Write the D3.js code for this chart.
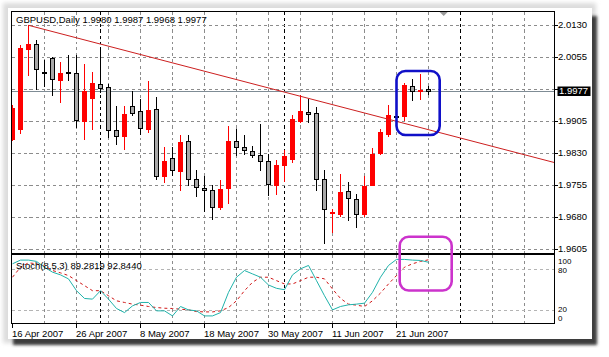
<!DOCTYPE html>
<html><head><meta charset="utf-8">
<script src="https://cdn.jsdelivr.net/npm/d3@7/dist/d3.min.js"></script>
<style>
html,body{margin:0;padding:0;background:#fff;}
svg{display:block;font-family:"Liberation Sans",Arial,sans-serif;}
</style></head><body>
<svg id="c" width="609" height="357"></svg>
<script>
// ---------- data ----------
const symbolTitle = "GBPUSD,Daily";
const titleValues = ["1.9980", "1.9987", "1.9968", "1.9977"];
const opens = [1.9864,1.9888,2.0075,2.0085,2.0021,2.0053,2.0001,2.0020,2.0018,1.9906,
  1.9960,1.9992,1.9985,1.9885,1.9870,1.9940,1.9929,1.9888,1.9933,1.9777,
  1.9819,1.9788,1.9858,1.9769,1.9749,1.9743,1.9704,1.9749,1.9858,1.9845,
  1.9835,1.9825,1.9811,1.9756,1.9802,1.9817,1.9905,1.9927,1.9924,1.9769,
  1.9690,1.9687,1.9741,1.9722,1.9688,1.9756,1.9831,1.9876,1.9918,1.9917,
  1.9988,1.9976,1.9980];
const highs = [1.9943,2.0083,2.0130,2.0095,2.0048,2.0056,2.0044,2.0060,2.0061,2.0040,
  2.0021,2.0079,1.9993,1.9942,1.9940,1.9975,1.9958,1.9999,1.9962,1.9845,
  1.9845,1.9872,1.9872,1.9790,1.9777,1.9755,1.9767,1.9894,1.9886,1.9874,
  1.9847,1.9898,1.9829,1.9814,1.9837,1.9920,1.9966,1.9957,1.9938,1.9790,
  1.9700,1.9781,1.9763,1.9735,1.9777,1.9842,1.9886,1.9944,1.9919,1.9995,
  2.0005,2.0017,1.9987];
const lows = [1.9861,1.9878,2.0013,1.9981,1.9988,1.9967,1.9950,2.0001,1.9892,1.9864,
  1.9888,1.9974,1.9868,1.9852,1.9841,1.9919,1.9876,1.9880,1.9769,1.9763,
  1.9778,1.9745,1.9755,1.9729,1.9695,1.9675,1.9700,1.9714,1.9827,1.9829,
  1.9821,1.9790,1.9732,1.9735,1.9764,1.9810,1.9903,1.9903,1.9745,1.9620,
  1.9646,1.9683,1.9673,1.9657,1.9683,1.9755,1.9829,1.9870,1.9916,1.9907,
  1.9954,1.9957,1.9968];
const closes = [1.9935,2.0077,2.0085,2.0027,2.0020,2.0003,2.0018,2.0019,1.9907,1.9976,
  1.9995,1.9984,1.9884,1.9870,1.9922,1.9925,1.9890,1.9931,1.9777,1.9811,
  1.9790,1.9856,1.9769,1.9751,1.9743,1.9704,1.9746,1.9859,1.9845,1.9837,
  1.9825,1.9811,1.9759,1.9802,1.9824,1.9910,1.9929,1.9921,1.9769,1.9699,
  1.9692,1.9739,1.9725,1.9688,1.9753,1.9829,1.9880,1.9920,1.9917,1.9991,
  1.9975,1.9979,1.9977];
const stochMain = [87.1,92.4,92.4,90.5,82.2,75.0,71.1,65.3,48.3,37.1,
  36.1,48.3,36.1,22.6,16.7,26.4,31.3,31.3,19.2,19.2,
  11.9,25.5,20.6,19.2,11.9,11.9,16.7,45.9,67.7,77.4,
  72.5,67.7,56.5,51.7,49.7,71.1,79.8,84.7,62.8,41.0,
  20.6,25.5,27.9,28.9,30.3,45.9,67.7,84.7,93.4,93.4,
  92.4,91.9,89.28];
const stochSignal = [67.7,82.2,88.5,87.1,83.7,77.4,74.0,70.1,62.8,55.6,
  48.3,48.3,41.0,33.7,31.3,28.9,27.4,25.5,24.0,23.0,
  22.6,21.6,20.6,18.2,17.7,17.7,19.2,24.0,33.7,48.3,
  60.4,67.7,67.7,62.8,58.0,58.0,62.8,67.7,67.7,65.3,
  50.7,37.1,28.9,27.4,25.5,33.7,44.9,58.0,70.1,82.2,
  87.1,90.5,92.84];
const stochLegend = "Stoch(8,5,3) 89.2819 92.8440";
const priceTicks = [2.0130, 2.0055, 1.9980, 1.9905, 1.9830, 1.9755, 1.9680, 1.9605];
const currentPrice = 1.9977;
const dateLabels = ["16 Apr 2007","26 Apr 2007","8 May 2007","18 May 2007","30 May 2007","11 Jun 2007","21 Jun 2007"];
const dateIdx = [0, 8, 16, 24, 32, 40, 48];
const separatorIdx = [11, 34, 56];
const trendIdx = [2, 49];
const trendPrice = [2.0130, 1.9900];
const stochLevels = [80, 20];
const stochTickValues = [100, 80, 20, 0];
const blueBoxIdx = [48.0, 53.4];
const blueBoxPrice = [2.0023, 1.9873];
const pinkBoxIdx = [48.4, 54.9];
const pinkBoxStoch = [126, 48.5];
const shiftMarkerIdx = 53.9;

// ---------- layout ----------
const L = 11.5, R = 554.5, T = 11.5, MB = 253.5, ST = 254.5, SB = 323.5;
const svg = d3.select("#c");
const defs = svg.append("defs");
defs.append("filter").attr("id","blur2").attr("x","-10%").attr("y","-10%").attr("width","120%").attr("height","120%")
  .append("feGaussianBlur").attr("stdDeviation", 2.2);
defs.append("filter").attr("id","blur1").attr("x","-10%").attr("y","-10%").attr("width","120%").attr("height","120%")
  .append("feGaussianBlur").attr("stdDeviation", 1.6);
defs.append("clipPath").attr("id","mainClip").append("rect").attr("x",L).attr("y",T).attr("width",R-L).attr("height",MB-T);
defs.append("clipPath").attr("id","stochClip").append("rect").attr("x",L).attr("y",ST).attr("width",R-L).attr("height",SB-ST);

// frame + shadow
svg.append("rect").attr("x",3).attr("y",3).attr("width",593).attr("height",340).attr("fill","#dcdcdc").attr("filter","url(#blur2)");
svg.append("rect").attr("x",13).attr("y",16).attr("width",584).attr("height",329).attr("fill","#3c3c3c").attr("filter","url(#blur1)");
svg.append("rect").attr("x",8).attr("y",8).attr("width",584).attr("height",331).attr("fill","#fff");

const xs = d3.scaleLinear().domain([0, 1]).range([12.5, 20.5]);
const ys = d3.scaleLinear().domain([1.9605, 2.0130]).range([249.3, 25.3]);
const ss = d3.scaleLinear().domain([20, 80]).range([310.3, 268.7]);
const maxIdx = (R - 12.5) / 8;

const gridColor = "#8c8c8c";
const g = svg.append("g").attr("shape-rendering","crispEdges");

// vertical grid
const vIdx = d3.range(4, Math.floor(maxIdx)+1, 4).filter(i => !separatorIdx.includes(i));
[[T, MB],[ST, SB]].forEach(([y0,y1]) => {
  g.selectAll(null).data(vIdx).enter().append("line")
    .attr("x1", d => xs(d)).attr("x2", d => xs(d)).attr("y1", y0).attr("y2", y1)
    .attr("stroke", gridColor).attr("stroke-dasharray","3,3");
  g.selectAll(null).data(separatorIdx).enter().append("line")
    .attr("x1", d => xs(d)).attr("x2", d => xs(d)).attr("y1", y0).attr("y2", y1)
    .attr("stroke", "#000").attr("stroke-dasharray","3,3");
});
// horizontal grid main
g.selectAll(null).data(priceTicks).enter().append("line")
  .attr("x1", L).attr("x2", R).attr("y1", d => Math.round(ys(d))+0.5).attr("y2", d => Math.round(ys(d))+0.5)
  .attr("stroke", gridColor).attr("stroke-dasharray","3,3");
// stoch levels
g.selectAll(null).data(stochLevels).enter().append("line")
  .attr("x1", L).attr("x2", R).attr("y1", d => Math.round(ss(d))+0.5).attr("y2", d => Math.round(ss(d))+0.5)
  .attr("stroke", "#b4b4b4").attr("stroke-dasharray","3,3");

// current price line
g.append("line").attr("x1", L).attr("x2", R)
  .attr("y1", Math.round(ys(currentPrice))+0.5).attr("y2", Math.round(ys(currentPrice))+0.5)
  .attr("stroke", "#7f8c95");

// candles
const bars = opens.map((o,i) => ({i, o, h: highs[i], l: lows[i], c: closes[i]}));
const cg = svg.append("g").attr("clip-path","url(#mainClip)").attr("shape-rendering","crispEdges");
bars.forEach(b => {
  const x = xs(b.i);
  const up = b.c > b.o;
  const col = up ? "#ff0000" : "#000";
  const yh = Math.round(ys(b.h)), yl = Math.round(ys(b.l));
  cg.append("line").attr("x1", x).attr("x2", x).attr("y1", yh).attr("y2", yl+1).attr("stroke", col);
  const yt = Math.round(ys(Math.max(b.o,b.c))), yb = Math.round(ys(Math.min(b.o,b.c)));
  if (up) {
    cg.append("rect").attr("x", x-2.5).attr("y", yt).attr("width", 5).attr("height", Math.max(yb-yt,1)+1).attr("fill","#ff0000");
  } else {
    cg.append("rect").attr("x", x-2).attr("y", yt+0.5).attr("width", 4).attr("height", Math.max(yb-yt,1))
      .attr("fill","#a8a8a8").attr("stroke","#000");
  }
});

// trend line
const slope = (trendPrice[1]-trendPrice[0])/(trendIdx[1]-trendIdx[0]);
svg.append("g").attr("clip-path","url(#mainClip)").append("line")
  .attr("x1", xs(trendIdx[0])).attr("y1", ys(trendPrice[0]))
  .attr("x2", xs(maxIdx+1)).attr("y2", ys(trendPrice[0] + slope*(maxIdx+1-trendIdx[0])))
  .attr("stroke", "#cc1f1f").attr("stroke-width", 1);

// stochastic lines
const sg = svg.append("g").attr("clip-path","url(#stochClip)");
sg.append("path").datum(stochSignal).attr("fill","none").attr("stroke","#d01818").attr("stroke-dasharray","3,3")
  .attr("d", d3.line().x((d,i)=>xs(i)).y(d=>ss(d)));
sg.append("path").datum(stochMain).attr("fill","none").attr("stroke","#20b2aa").attr("stroke-width",1)
  .attr("d", d3.line().x((d,i)=>xs(i)).y(d=>ss(d)));

// borders
const bg = svg.append("g").attr("shape-rendering","crispEdges").attr("fill","none").attr("stroke","#000");
bg.append("rect").attr("x", L).attr("y", T).attr("width", R-L).attr("height", MB-T);
bg.append("rect").attr("x", L).attr("y", ST).attr("width", R-L).attr("height", SB-ST);

// shift marker
const sx = xs(shiftMarkerIdx);
svg.append("path").attr("d", `M${sx-4},${T+0.5} L${sx+4},${T+0.5} L${sx},${T+4.5} Z`).attr("fill","#9a9a9a");

// price axis
const ax = svg.append("g").attr("font-size","9.5px").attr("fill","#000");
const cyRound = Math.round(ys(currentPrice));
priceTicks.forEach(p => {
  const y = Math.round(ys(p))+0.5;
  ax.append("line").attr("x1", R).attr("x2", R+3).attr("y1", y).attr("y2", y).attr("stroke","#000").attr("shape-rendering","crispEdges");
  // the current-price badge hides any tick label it sits on
  if (Math.abs(y - cyRound) > 8) ax.append("text").attr("x", 558).attr("y", y+2.8).text(p.toFixed(4));
});
// current price box
ax.append("rect").attr("x", 557.5).attr("y", cyRound-4.5).attr("width", 33).attr("height", 9.5).attr("fill","#000");
ax.append("text").attr("x", 559).attr("y", cyRound+3.3).attr("fill","#fff").text(currentPrice.toFixed(4));

// stoch axis labels (clamped inside panel like the terminal does)
const sAx = svg.append("g").attr("font-size","8px").attr("fill","#000");
stochTickValues.forEach(v => {
  let y = ss(v);
  y = Math.max(ST+6, Math.min(SB-6, y));
  if (v === 80) y += 1.5;
  if (v === 20) y -= 1.5;
  sAx.append("text").attr("x", 558).attr("y", y+3).text(String(v));
});

// date axis
dateIdx.forEach((d,k) => {
  const x = xs(d);
  ax.append("line").attr("x1", x).attr("x2", x).attr("y1", SB).attr("y2", SB+4).attr("stroke","#000").attr("shape-rendering","crispEdges");
  ax.append("text").attr("x", x-0.5).attr("y", 337).text(dateLabels[k]);
});

// titles
ax.append("text").attr("x", 16).attr("y", 23).text(symbolTitle + "  " + titleValues.join(" "));
ax.append("text").attr("x", 16).attr("y", 268.5).text(stochLegend);

// annotation boxes
svg.append("rect").attr("x", xs(blueBoxIdx[0])).attr("y", ys(blueBoxPrice[0]))
  .attr("width", xs(blueBoxIdx[1]) - xs(blueBoxIdx[0])).attr("height", ys(blueBoxPrice[1]) - ys(blueBoxPrice[0]))
  .attr("rx", 9).attr("fill","none").attr("stroke","#1010c8").attr("stroke-width", 2.6);
svg.append("rect").attr("x", xs(pinkBoxIdx[0])).attr("y", ss(pinkBoxStoch[0]))
  .attr("width", xs(pinkBoxIdx[1]) - xs(pinkBoxIdx[0])).attr("height", ss(pinkBoxStoch[1]) - ss(pinkBoxStoch[0]))
  .attr("rx", 9).attr("fill","none").attr("stroke","#cc33cc").attr("stroke-width", 2.6);
</script>
</body></html>
